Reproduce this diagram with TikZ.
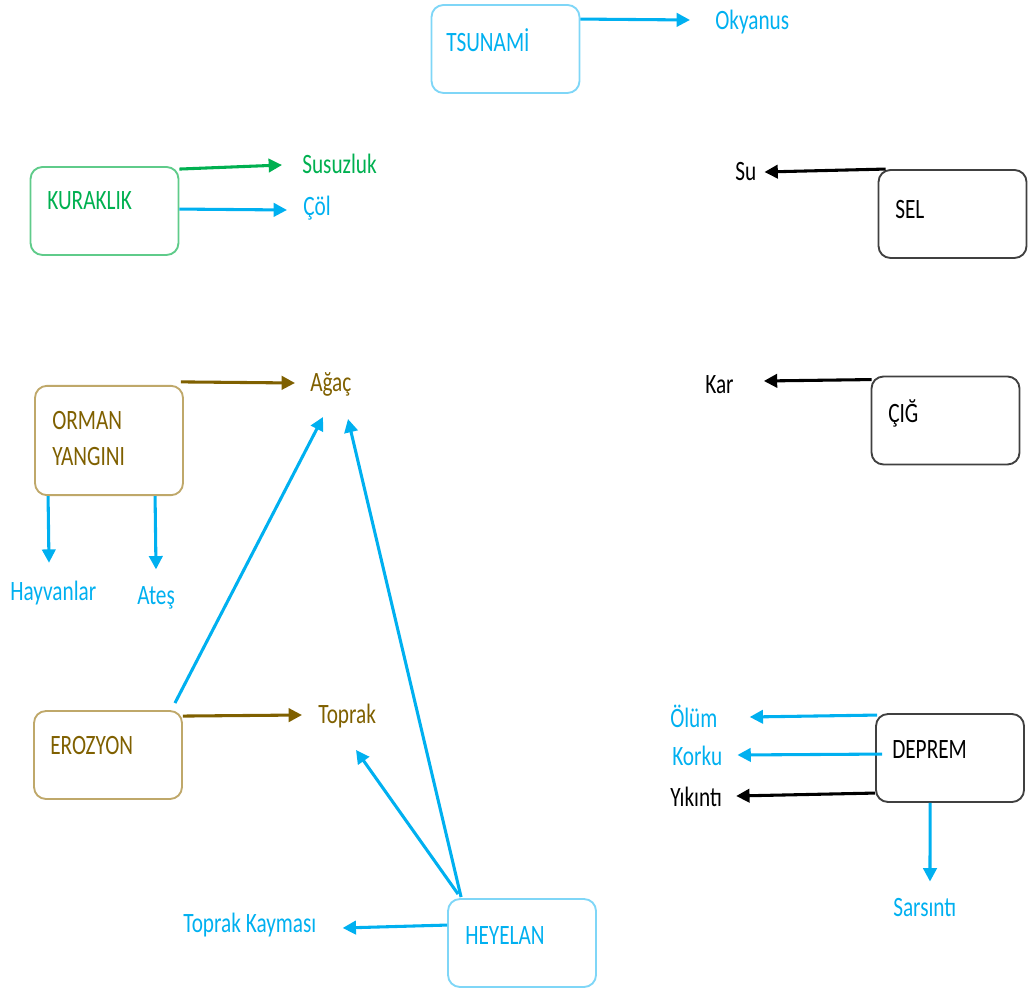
\documentclass[tikz,border=0pt]{standalone}
\usepackage{fontspec}
\setmainfont{Carlito}[FakeStretch=0.76]
\usetikzlibrary{arrows.meta,calc}
\definecolor{cblue}{HTML}{00B0F0}
\definecolor{cgreen}{HTML}{00B050}
\definecolor{cbrown}{HTML}{7F6000}
\definecolor{bblue}{HTML}{7FD6F7}
\definecolor{bgreen}{HTML}{5FCB8A}
\definecolor{btan}{HTML}{BFA86A}
\definecolor{bgray}{HTML}{404040}
\tikzset{
  box/.style={draw, line width=1.4pt, rounded corners=9pt, minimum width=111pt, minimum height=66pt, inner sep=0pt},
  lbl/.style={anchor=west, inner sep=0pt, font=\fontsize{21}{27}\selectfont},
  arr/.style={line width=2.3pt, -{Triangle[length=10pt,width=10pt]}},
}
\begin{document}
\begin{tikzpicture}[x=0.75pt,y=-0.75pt]
\useasboundingbox (0,0) rectangle (1028,994);
% boxes
\node[box, draw=bblue] (tsu) at (505.5,49) {};
\node[box, draw=bgreen] (kur) at (104.5,211) {};
\node[box, draw=btan, minimum height=82pt] (orm) at (109,440.5) {};
\node[box, draw=btan] (ero) at (108,755) {};
\node[box, draw=bblue] (hey) at (522,943) {};
\node[box, draw=bgray] (sel) at (952.5,214) {};
\node[box, draw=bgray] (cig) at (945.5,420.5) {};
\node[box, draw=bgray] (dep) at (950,758) {};
% box texts
\node[lbl, text=cblue] (tsut) at (446,40) {TSUNAMİ};
\node[lbl, text=cgreen] (kurt) at (47,201) {KURAKLIK};
\node[lbl, text=cbrown, align=left] (ormt) at (52,439) {ORMAN\\YANGINI};
\node[lbl, text=cbrown] (erot) at (50,746) {EROZYON};
\node[lbl, text=cblue] (heyt) at (465,936) {HEYELAN};
\node[lbl, text=black] (selt) at (895,210) {SEL};
\node[lbl, text=black] (cigt) at (888,413) {ÇIĞ};
\node[lbl, text=black] (dept) at (892,750) {DEPREM};
% labels
\node[lbl, text=cblue] (oky) at (715,22) {Okyanus};
\node[lbl, text=cgreen] (sus) at (302,164) {Susuzluk};
\node[lbl, text=cblue] (col) at (303,208) {Çöl};
\node[lbl, text=cbrown] (aga) at (310,384) {Ağaç};
\node[lbl, text=cblue] (hay) at (10,593) {Hayvanlar};
\node[lbl, text=cblue] (ate) at (137,598) {Ateş};
\node[lbl, text=cbrown] (top) at (318,716) {Toprak};
\node[lbl, text=cblue] (tka) at (183,925) {Toprak Kayması};
\node[lbl, text=black] (su) at (735,172) {Su};
\node[lbl, text=black] (kar) at (705,385) {Kar};
\node[lbl, text=cblue] (olu) at (670,716) {Ölüm};
\node[lbl, text=cblue] (kor) at (672,756) {Korku};
\node[lbl, text=black] (yik) at (670,797) {Yıkıntı};
\node[lbl, text=cblue] (sar) at (893,908) {Sarsıntı};
% arrows
\draw[arr, cblue] ($(tsu.north east)+(0,15)$) -- ($(oky.west)+(-25,-2)$);
\draw[arr, cgreen] ($(kur.north east)+(0,3)$) -- ($(sus.west)+(-20,1)$);
\draw[arr, cblue] ($(kur.north east)+(0,43)$) -- ($(col.west)+(-16,2)$);
\draw[arr, cbrown] ($(orm.north east)+(-3,-3)$) -- ($(aga.west)+(-15,-1)$);
\draw[arr, cblue] ($(orm.south west)+(14,0)$) -- ($(hay.north west)+(39,-18)$);
\draw[arr, cblue] ($(orm.south west)+(121,0)$) -- ($(ate.north west)+(19,-17)$);
\draw[arr, cbrown] ($(ero.north east)+(0,6)$) -- ($(top.west)+(-16,-1)$);
\draw[arr, cblue] ($(ero.north east)+(-8,-7)$) -- ($(aga.west)+(13,33)$);
\draw[arr, cblue] ($(hey.north west)+(14,-1)$) -- ($(aga.west)+(38,35)$);
\draw[arr, cblue] ($(hey.north west)+(11,-4)$) -- ($(top.west)+(38,34)$);
\draw[arr, cblue] ($(hey.north west)+(0,27)$) -- ($(tka.east)+(26,3)$);
\draw[arr, black] ($(sel.north west)+(8,0)$) -- ($(su.east)+(8,0)$);
\draw[arr, black] ($(cig.north west)+(1,4)$) -- ($(kar.east)+(30,-4)$);
\draw[arr, cblue] ($(dep.north west)+(2,2)$) -- ($(olu.east)+(32,1)$);
\draw[arr, cblue] ($(dep.north west)+(7,41)$) -- ($(kor.east)+(15,-1)$);
\draw[arr, black] ($(dep.north west)+(0,80)$) -- ($(yik.east)+(14,-1)$);
\draw[arr, cblue] ($(dep.south west)+(55,0)$) -- ($(sar.north west)+(37,-17)$);
\end{tikzpicture}
\end{document}
